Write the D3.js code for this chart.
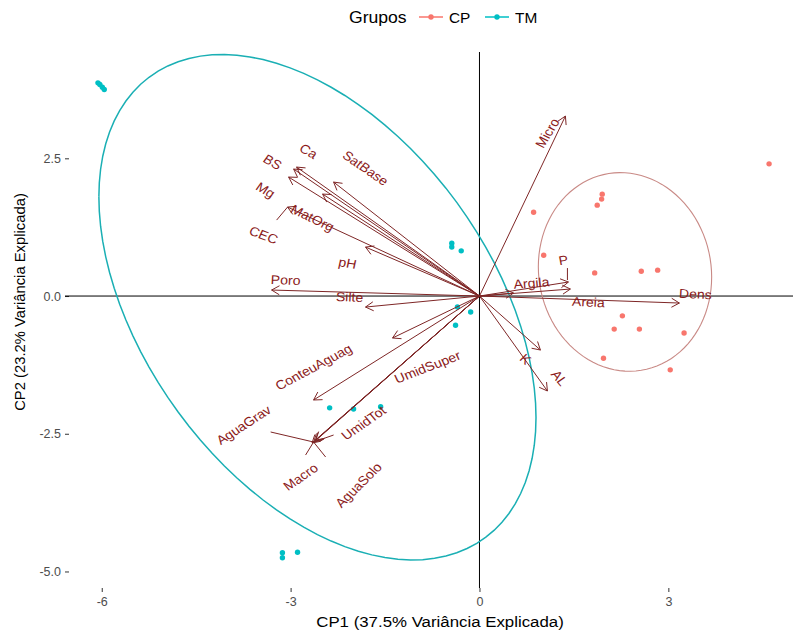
<!DOCTYPE html>
<html>
<head>
<meta charset="utf-8">
<script src="https://cdn.jsdelivr.net/npm/d3@7"></script>
<style>
  body { margin: 0; background: #fff; }
  text { font-family: "Liberation Sans", Arial, sans-serif; }
</style>
</head>
<body>
<svg id="chart" width="793" height="632"></svg>
<script>
// ---- Scores (CP1, CP2) per group ----
const groupNames = ["CP", "TM"];
const groupColors = ["#F8766D", "#00BFC4"];
const cpX = [4.60, 0.86, 1.95, 1.94, 1.87, 1.02, 1.83, 2.57, 2.83, 2.27, 2.14, 2.54, 3.25, 1.97, 3.03];
const cpY = [2.40, 1.52, 1.85, 1.76, 1.65, 0.74, 0.42, 0.45, 0.47, -0.36, -0.60, -0.60, -0.67, -1.13, -1.34];
const tmX = [-6.06, -6.03, -5.99, -5.96, -0.44, -0.44, -0.29, -0.35, -0.14, -0.38, -2.38, -2.00, -1.57, -3.13, -3.13, -2.89];
const tmY = [3.87, 3.84, 3.79, 3.75, 0.96, 0.89, 0.82, -0.20, -0.29, -0.53, -2.03, -2.05, -2.01, -4.66, -4.75, -4.65];

// ---- Variable loadings (arrow tips) ----
const varNames = ["Micro", "P", "Argila", "Areia", "Dens", "K", "AL",
  "BS", "Ca", "Mg", "SatBase", "MatOrg", "CEC", "pH", "Poro", "Silte",
  "ConteuAguag", "UmidSuper", "AguaGrav", "UmidTot", "Macro", "AguaSolo"];
const varX = [1.365, 1.413, 1.444, 0.54, 3.175, 0.968, 1.079,
  -2.952, -2.905, -3.032, -2.317, -2.492, -3.048, -1.810, -3.302, -1.810,
  -2.635, -1.381, -2.660, -2.610, -2.635, -2.600];
const varY = [3.267, 0.254, 0.127, 0.054, -0.127, -0.980, -1.724,
  2.305, 2.341, 2.160, 2.069, 1.851, 1.615, 0.889, 0.109, -0.200,
  -1.887, -0.762, -2.668, -2.632, -2.650, -2.615];

// ---- Variable label placement (CP units) and screen angle (deg) ----
const labelX = [1.079, 1.333, 0.825, 1.730, 3.43, 0.730, 1.270,
  -3.286, -2.714, -3.397, -1.810, -2.651, -3.429, -2.095, -3.079, -2.063,
  -2.635, -0.825, -3.746, -1.841, -2.841, -1.921];
const labelY = [2.958, 0.653, 0.236, -0.109, 0.036, -1.143, -1.488,
  2.432, 2.632, 1.924, 2.323, 1.416, 1.107, 0.599, 0.290, -0.018,
  -1.289, -1.289, -2.341, -2.305, -3.285, -3.430];
const labelAngle = [-63, -10, -5, 3, 3, 45, 55,
  35, 35, 35, 40, 30, 25, 12, 3, 3,
  -33, -25, -38, -40, -40, -50];

// Extra head strokes drawn at some tips (CP units: x1, y1, x2, y2)
const headStrokes = [
  [-3.222, 1.379, -3.048, 1.615],
  [1.397, 0.508, 1.397, 0.290],
  [-3.317, -2.468, -2.635, -2.650],
  [-2.762, -2.886, -2.635, -2.650],
  [-2.444, -2.922, -2.635, -2.650],
  [-2.317, -2.523, -2.635, -2.650]
];

const xTicks = [-6, -3, 0, 3];
const yTicks = [2.5, 0, -2.5, -5];
const xTitle = "CP1 (37.5% Variância Explicada)";
const yTitle = "CP2 (23.2% Variância Explicada)";
const legendTitle = "Grupos";

// ---- Layout ----
const W = 793, H = 632;
const panel = { left: 69, right: 793, top: 52, bottom: 588 };
const textStretch = 1.1;

const svg = d3.select("#chart");
svg.append("rect").attr("width", W).attr("height", H).attr("fill", "#fff");

const x = d3.scaleLinear().domain([-6.52, 4.98]).range([panel.left, panel.right]);
const y = d3.scaleLinear().domain([-5.30, 4.43]).range([panel.bottom, panel.top]);

// Axes (ticks + labels only, no axis lines)
const xAxis = svg.append("g")
  .attr("transform", `translate(0,${panel.bottom})`)
  .call(d3.axisBottom(x).tickValues(xTicks).tickSize(4).tickPadding(5));
const yAxis = svg.append("g")
  .attr("transform", `translate(${panel.left},0)`)
  .call(d3.axisLeft(y).tickValues(yTicks).tickSize(4).tickPadding(4));
[[xAxis, d3.format("d")], [yAxis, d3.format(".1f")]].forEach(([g, fmt]) => {
  g.select(".domain").remove();
  g.selectAll(".tick line").attr("stroke", "#333").attr("stroke-width", 1);
  g.selectAll(".tick text").attr("fill", "#4D4D4D").attr("font-size", 12.5)
    .text(d => fmt(d).replace("\u2212", "-"));
});

// Reference lines at zero
svg.append("line")
  .attr("x1", panel.left - 4).attr("x2", panel.right)
  .attr("y1", y(0)).attr("y2", y(0))
  .attr("stroke", "#000").attr("stroke-width", 1);
svg.append("line")
  .attr("x1", x(0)).attr("x2", x(0))
  .attr("y1", panel.top).attr("y2", panel.bottom)
  .attr("stroke", "#000").attr("stroke-width", 1);

// ---- Group ellipses (normal, 68% probability) ----
function ellipsePath(xs, ys) {
  const n = xs.length;
  const mx = d3.mean(xs), my = d3.mean(ys);
  let sxx = 0, syy = 0, sxy = 0;
  for (let i = 0; i < n; i++) {
    sxx += (xs[i] - mx) ** 2;
    syy += (ys[i] - my) ** 2;
    sxy += (xs[i] - mx) * (ys[i] - my);
  }
  sxx /= n - 1; syy /= n - 1; sxy /= n - 1;
  const r11 = Math.sqrt(sxx), r12 = sxy / r11, r22 = Math.sqrt(syy - r12 * r12);
  const ed = Math.sqrt(-2 * Math.log(1 - 0.68));
  const pts = d3.range(0, 101).map(k => {
    const t = -Math.PI + 2 * Math.PI * k / 100;
    const c = Math.cos(t), s = Math.sin(t);
    return [x(mx + ed * c * r11), y(my + ed * (c * r12 + s * r22))];
  });
  return d3.line()(pts);
}
svg.append("path").attr("d", ellipsePath(tmX, tmY))
  .attr("fill", "none").attr("stroke", "#1AAFB4").attr("stroke-width", 1.5);
svg.append("path").attr("d", ellipsePath(cpX, cpY))
  .attr("fill", "none").attr("stroke", "#C98A86").attr("stroke-width", 1.1);

// ---- Points ----
const pointsG = svg.append("g");
[[cpX, cpY, groupColors[0]], [tmX, tmY, groupColors[1]]].forEach(([xs, ys, col]) => {
  pointsG.selectAll(null).data(d3.range(xs.length)).join("circle")
    .attr("cx", i => x(xs[i])).attr("cy", i => y(ys[i]))
    .attr("r", 2.7).attr("fill", col);
});

// ---- Loading arrows ----
const arrowColor = "#7E2626";
const headLen = 9, headAng = Math.PI / 6;
const arrowsG = svg.append("g").attr("stroke", arrowColor).attr("fill", "none").attr("stroke-width", 1);
varNames.forEach((name, i) => {
  const x0 = x(0), y0 = y(0), x1 = x(varX[i]), y1 = y(varY[i]);
  arrowsG.append("line").attr("x1", x0).attr("y1", y0).attr("x2", x1).attr("y2", y1);
  const a = Math.atan2(y1 - y0, x1 - x0);
  const p1 = [x1 - headLen * Math.cos(a - headAng), y1 - headLen * Math.sin(a - headAng)];
  const p2 = [x1 - headLen * Math.cos(a + headAng), y1 - headLen * Math.sin(a + headAng)];
  arrowsG.append("path").attr("d", d3.line()([p1, [x1, y1], p2]));
});
headStrokes.forEach(s => {
  arrowsG.append("line")
    .attr("x1", x(s[0])).attr("y1", y(s[1])).attr("x2", x(s[2])).attr("y2", y(s[3]));
});

// ---- Variable labels ----
const deg = Math.PI / 180;
varNames.forEach((name, i) => {
  // angle before horizontal stretch so the stretched text lands at the target angle
  const a0 = Math.atan(Math.tan(labelAngle[i] * deg) / textStretch) / deg;
  svg.append("text")
    .attr("transform", `translate(${x(labelX[i])},${y(labelY[i])}) scale(${textStretch},1) rotate(${a0})`)
    .attr("text-anchor", "middle").attr("dy", "0.35em")
    .attr("font-size", 12.8).attr("fill", "#8B1A1A")
    .text(name);
});

// ---- Axis titles ----
svg.append("text")
  .attr("transform", `translate(440,627) scale(${textStretch},1)`)
  .attr("text-anchor", "middle").attr("font-size", 15.3).attr("fill", "#000")
  .text(xTitle);
svg.append("text")
  .attr("transform", `translate(25,302) rotate(-90)`)
  .attr("text-anchor", "middle").attr("font-size", 14.8).attr("fill", "#000")
  .text(yTitle);

// ---- Legend ----
const lg = svg.append("g");
lg.append("text").attr("transform", `translate(349,23) scale(${textStretch},1)`)
  .attr("font-size", 16).attr("fill", "#000").text(legendTitle);
const keyX = [431, 497];
groupNames.forEach((g, i) => {
  lg.append("line").attr("x1", keyX[i] - 12).attr("x2", keyX[i] + 12)
    .attr("y1", 17).attr("y2", 17).attr("stroke", groupColors[i]).attr("stroke-width", 1.5);
  lg.append("circle").attr("cx", keyX[i]).attr("cy", 17).attr("r", 2.7).attr("fill", groupColors[i]);
  lg.append("text").attr("transform", `translate(${keyX[i] + 18},22.5) scale(${textStretch},1)`)
    .attr("font-size", 14).attr("fill", "#000").text(g);
});
</script>
</body>
</html>
